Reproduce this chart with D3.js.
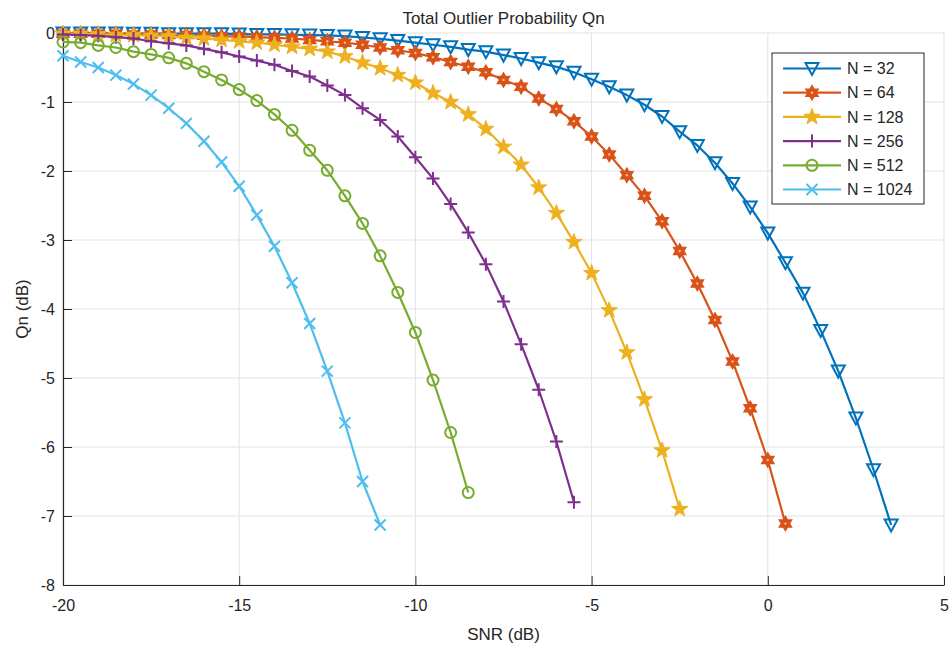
<!DOCTYPE html>
<html>
<head>
<meta charset="utf-8">
<script src="https://cdn.jsdelivr.net/npm/d3@7"></script>
<style>
  body { margin: 0; background: #fff; }
  text { font-family: "Liberation Sans", Arial, sans-serif; fill: #262626; }
</style>
</head>
<body>
<script>
'use strict';

var width  = 952;
var height = 652;

// SNR start and step (dB), values of each series in dB
var snrStart = -20;
var snrStep  = 0.5;

var q32 = [0, 0, 0, 0, -0.005, -0.005, -0.01, -0.01, -0.01, -0.01, -0.015, -0.02, -0.02, -0.025, -0.03, -0.035,
  -0.045, -0.065, -0.085, -0.11, -0.14, -0.17, -0.2, -0.24, -0.27, -0.32, -0.37, -0.43, -0.49, -0.57, -0.67, -0.78,
  -0.9, -1.04, -1.21, -1.43, -1.63, -1.88, -2.18, -2.52, -2.9, -3.33, -3.77, -4.31, -4.9, -5.58, -6.33, -7.13];
var q64 = [-0.01, -0.01, -0.01, -0.01, -0.02, -0.02, -0.03, -0.03, -0.04, -0.05, -0.05, -0.06, -0.07, -0.08, -0.1, -0.12,
  -0.14, -0.17, -0.21, -0.25, -0.29, -0.35, -0.42, -0.49, -0.57, -0.68, -0.78, -0.95, -1.1, -1.28, -1.5, -1.76,
  -2.06, -2.36, -2.73, -3.16, -3.63, -4.16, -4.76, -5.44, -6.19, -7.11];
var q128 = [-0.01, -0.01, -0.02, -0.03, -0.03, -0.04, -0.05, -0.07, -0.08, -0.1, -0.12, -0.14, -0.17, -0.2, -0.23, -0.27,
  -0.34, -0.43, -0.51, -0.61, -0.72, -0.87, -1.0, -1.18, -1.39, -1.65, -1.91, -2.24, -2.61, -3.03, -3.48, -4.02,
  -4.63, -5.31, -6.05, -6.9];
var q256 = [-0.02, -0.03, -0.04, -0.06, -0.08, -0.12, -0.15, -0.18, -0.23, -0.28, -0.34, -0.4, -0.46, -0.55, -0.63, -0.76,
  -0.9, -1.09, -1.26, -1.5, -1.8, -2.11, -2.48, -2.89, -3.35, -3.89, -4.51, -5.17, -5.92, -6.8];
var q512 = [-0.13, -0.14, -0.18, -0.21, -0.27, -0.31, -0.36, -0.44, -0.56, -0.68, -0.82, -0.98, -1.18, -1.41, -1.7, -1.99,
  -2.36, -2.76, -3.23, -3.76, -4.34, -5.03, -5.79, -6.66];
var q1024 = [-0.33, -0.42, -0.5, -0.61, -0.74, -0.9, -1.09, -1.31, -1.57, -1.87, -2.22, -2.64, -3.09, -3.62, -4.21, -4.9,
  -5.65, -6.5, -7.13];

var labels  = ['N = 32', 'N = 64', 'N = 128', 'N = 256', 'N = 512', 'N = 1024'];
var xTicks  = [-20, -15, -10, -5, 0, 5];
var yTicks  = [0, -1, -2, -3, -4, -5, -6, -7, -8];

var colors  = ['#0072BD', '#D95319', '#EDB120', '#7E2F8E', '#77AC30', '#4DBEEE'];
var markers = ['tri', 'hex', 'star', 'plus', 'circle', 'cross'];
var allData = [q32, q64, q128, q256, q512, q1024];

var margin = {left: 63, right: 8, top: 33, bottom: 67};

var svg = d3.select('body').append('svg')
    .attr('width', width)
    .attr('height', height);

var x = d3.scaleLinear().domain([-20, 5]).range([margin.left, width - margin.right]);
var y = d3.scaleLinear().domain([-8, 0]).range([height - margin.bottom, margin.top]);

// plain hyphen for negatives, like the original
var fmt = function(d) { return String(d); };

// grid
svg.append('g').selectAll('line').data(xTicks).enter().append('line')
  .attr('x1', function(d) { return x(d); }).attr('x2', function(d) { return x(d); })
  .attr('y1', y(-8)).attr('y2', y(0))
  .attr('stroke', '#e3e3e3').attr('stroke-width', 1);
svg.append('g').selectAll('line').data(yTicks).enter().append('line')
  .attr('y1', function(d) { return y(d); }).attr('y2', function(d) { return y(d); })
  .attr('x1', x(-20)).attr('x2', x(5))
  .attr('stroke', '#e3e3e3').attr('stroke-width', 1);

// axes
var xAxis = d3.axisBottom(x).tickValues(xTicks).tickFormat(fmt).tickSizeInner(-9).tickSizeOuter(0).tickPadding(14);
var yAxis = d3.axisLeft(y).tickValues(yTicks).tickFormat(fmt).tickSizeInner(-9).tickSizeOuter(0).tickPadding(14);

var gx = svg.append('g').attr('transform', 'translate(0,' + y(-8) + ')').call(xAxis);
var gy = svg.append('g').attr('transform', 'translate(' + x(-20) + ',0)').call(yAxis);

[gx, gy].forEach(function(g) {
  g.select('.domain').attr('stroke', '#262626').attr('stroke-width', 1.2);
  g.selectAll('.tick line').attr('stroke', '#262626').attr('stroke-width', 1);
  g.selectAll('.tick text').attr('font-size', 16)
    .style('font-family', '"Liberation Sans", Arial, sans-serif').attr('fill', '#262626');
});
gy.selectAll('.tick text').attr('dx', 6);
gx.selectAll('.tick text').attr('dy', '0.75em');

// marker shapes
function markerPath(type) {
  var p = [], i, a, r;
  if (type === 'tri') {
    return 'M-6.5,-5.5L6.5,-5.5L0,6.5Z';
  }
  if (type === 'hex') {
    for (i = 0; i < 12; i++) {
      a = Math.PI / 6 * i - Math.PI / 2;
      r = (i % 2 === 0) ? 6.5 : 3.75;
      p.push([r * Math.cos(a), r * Math.sin(a)]);
    }
    return 'M' + p.join('L') + 'Z';
  }
  if (type === 'star') {
    for (i = 0; i < 10; i++) {
      a = Math.PI / 5 * i - Math.PI / 2;
      r = (i % 2 === 0) ? 8.5 : 3.4;
      p.push([r * Math.cos(a), r * Math.sin(a)]);
    }
    return 'M' + p.join('L') + 'Z';
  }
  if (type === 'plus') {
    return 'M-6.5,0L6.5,0M0,-6.5L0,6.5';
  }
  if (type === 'circle') {
    return 'M5.5,0A5.5,5.5 0 1,1 -5.5,0A5.5,5.5 0 1,1 5.5,0Z';
  }
  return 'M-5.5,-5.5L5.5,5.5M-5.5,5.5L5.5,-5.5';
}

function drawMarker(g, type, color) {
  g.append('path')
    .attr('d', markerPath(type))
    .attr('fill', type === 'star' ? color : (type === 'hex' ? color : 'none'))
    .attr('stroke', color)
    .attr('stroke-width', type === 'star' ? 1 : 2)
    .attr('stroke-linejoin', 'miter');
  if (type === 'hex') {
    g.append('circle').attr('r', 1.2).attr('fill', '#fff').attr('opacity', 0.6);
  }
}

var line = d3.line()
  .x(function(d, i) { return x(snrStart + i * snrStep); })
  .y(function(d) { return y(d); });

allData.forEach(function(data, k) {
  svg.append('path')
    .datum(data)
    .attr('d', line)
    .attr('fill', 'none')
    .attr('stroke', colors[k])
    .attr('stroke-width', 2.2)
    .attr('stroke-linejoin', 'round');

  svg.append('g').selectAll('g').data(data).enter().append('g')
    .attr('transform', function(d, i) {
      return 'translate(' + x(snrStart + i * snrStep) + ',' + y(d) + ')';
    })
    .each(function() { drawMarker(d3.select(this), markers[k], colors[k]); });
});

// legend
var legend = svg.append('g');
legend.append('rect')
  .attr('x', 772).attr('y', 53).attr('width', 152).attr('height', 151)
  .attr('fill', '#fff').attr('stroke', '#262626').attr('stroke-width', 1);

labels.forEach(function(label, k) {
  var ly = 68.5 + k * 24.2;
  legend.append('line')
    .attr('x1', 783).attr('x2', 841).attr('y1', ly).attr('y2', ly)
    .attr('stroke', colors[k]).attr('stroke-width', 2.2);
  var m = legend.append('g').attr('transform', 'translate(812,' + ly + ')');
  drawMarker(m, markers[k], colors[k]);
  legend.append('text')
    .attr('x', 847).attr('y', ly).attr('dy', '0.36em')
    .attr('font-size', 16)
    .text(label);
});

// title and axis labels
svg.append('text')
  .attr('x', (x(-20) + x(5)) / 2).attr('y', 24)
  .attr('text-anchor', 'middle').attr('font-size', 17)
  .text('Total Outlier Probability Qn');

svg.append('text')
  .attr('x', (x(-20) + x(5)) / 2).attr('y', 640)
  .attr('text-anchor', 'middle').attr('font-size', 17)
  .text('SNR (dB)');

svg.append('text')
  .attr('transform', 'translate(28,' + ((y(0) + y(-8)) / 2) + ') rotate(-90)')
  .attr('text-anchor', 'middle').attr('font-size', 17)
  .text('Qn (dB)');
</script>
</body>
</html>
